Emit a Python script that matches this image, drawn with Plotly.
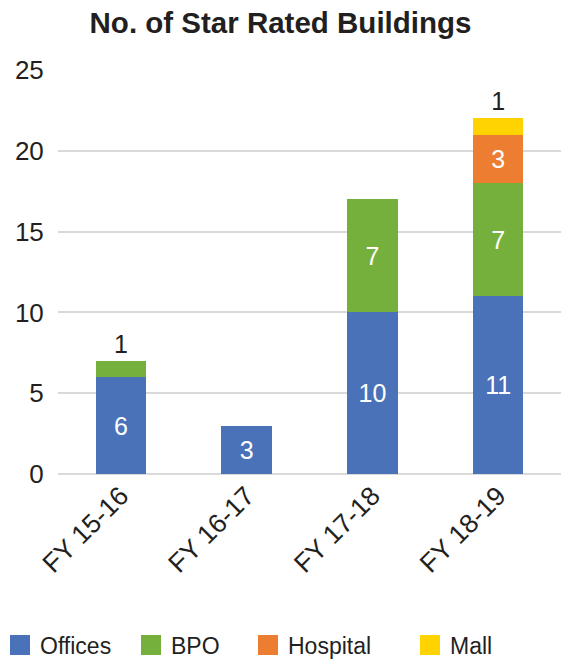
import plotly.graph_objects as go

# data
years = ["FY 15-16", "FY 16-17", "FY 17-18", "FY 18-19"]
offices = [6, 3, 10, 11]
bpo = [1, None, 7, 7]
hospital = [None, None, None, 3]
mall = [None, None, None, 1]

series = [
    ("Offices", offices, "#4A72B8"),
    ("BPO", bpo, "#76B03C"),
    ("Hospital", hospital, "#ED7D31"),
    ("Mall", mall, "#FFD300"),
]

FONT = "Liberation Sans, Arial, sans-serif"
DARK = "#231F20"

# small segments get their label above the bar, like the source
outside_pos = {"BPO": ["outside", "inside", "inside", "inside"],
               "Mall": ["inside", "inside", "inside", "outside"]}

fig = go.Figure()
legend_names = ["legend", "legend2", "legend3", "legend4"]
for (name, vals, color), lg in zip(series, legend_names):
    fig.add_trace(go.Bar(
        x=years,
        y=vals,
        name=name,
        marker=dict(color=color, line=dict(width=0)),
        text=[str(v) if v is not None else "" for v in vals],
        textposition=outside_pos.get(name, "inside"),
        insidetextanchor="middle",
        insidetextfont=dict(color="white", size=25, family=FONT),
        outsidetextfont=dict(color=DARK, size=25, family=FONT),
        constraintext="none",
        cliponaxis=False,
        showlegend=False,
        hoverinfo="skip",
    ))
    # legend-only marker so the swatch is a larger square
    fig.add_trace(go.Scatter(
        x=[None], y=[None], mode="markers", name=name,
        marker=dict(symbol="square", size=20, color=color,
                    line=dict(width=4, color=color)),
        legend=lg,
    ))

# each legend entry placed on its own, matching the uneven spacing of the source
leg_x = [-18, 131, 248, 410]
leg_common = dict(
    orientation="h", xref="container", yref="container",
    xanchor="left", yanchor="middle", y=15 / 660,
    font=dict(size=23, color=DARK, family=FONT),
    itemsizing="trace", bgcolor="rgba(0,0,0,0)",
)

layout_legends = {}
for lg, lx in zip(legend_names, leg_x):
    layout_legends[lg] = dict(x=lx / 561, **leg_common)

fig.update_layout(
    barmode="stack",
    bargap=0.6,
    width=561,
    height=660,
    margin=dict(l=58, r=0, t=70, b=186),
    paper_bgcolor="white",
    plot_bgcolor="white",
    font=dict(family=FONT, color=DARK),
    title=dict(
        text="<b>No. of Star Rated Buildings</b>",
        x=0.5, xref="container", xanchor="center",
        y=1 - 23 / 660, yref="container", yanchor="middle",
        font=dict(size=29.5, color=DARK, family=FONT),
    ),
    xaxis=dict(
        tickangle=-45,
        tickfont=dict(size=26.5, color=DARK, family=FONT),
        showgrid=False,
        showline=False,
        ticks="",
    ),
    yaxis=dict(
        range=[0, 25],
        dtick=5,
        tickfont=dict(size=26, color=DARK, family=FONT),
        gridcolor="#D9D9D9",
        gridwidth=1.5,
        zeroline=True,
        zerolinecolor="#D9D9D9",
        zerolinewidth=1.5,
        showline=False,
        ticks="outside",
        ticklen=8,
        tickcolor="rgba(0,0,0,0)",
    ),
    **layout_legends,
)

# page body has a default 8px margin; drop it so the figure fills the window
fig.write_html(
    "out.html",
    config={"displayModeBar": False},
    post_script="document.body.style.margin='0';",
)
